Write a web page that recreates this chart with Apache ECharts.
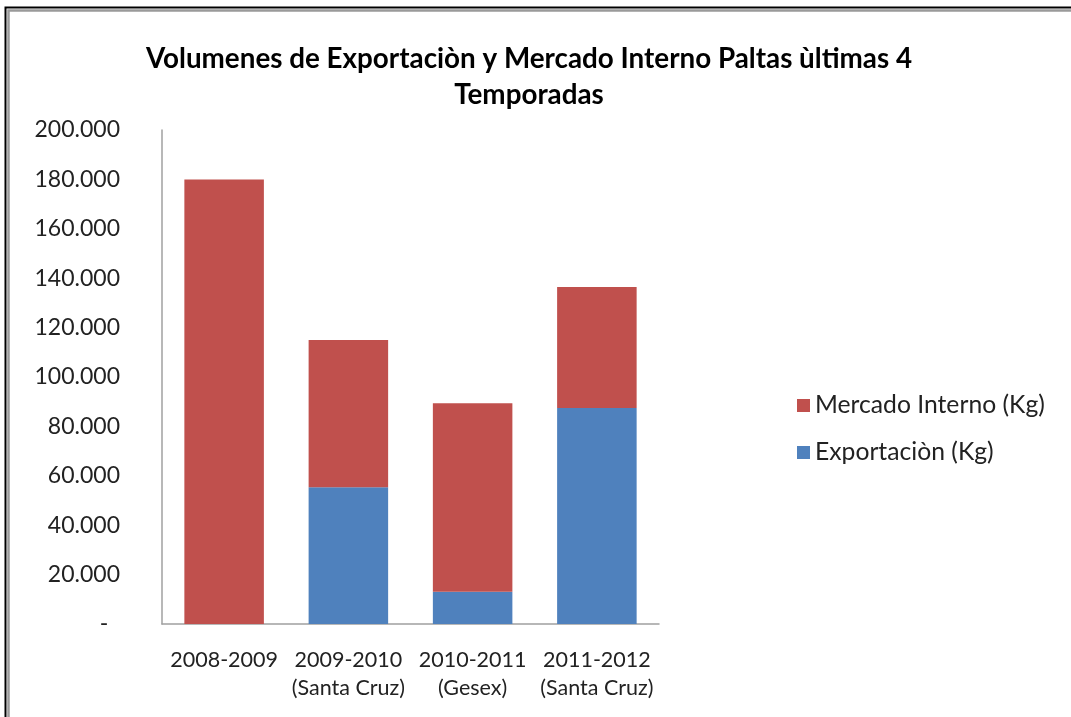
<!DOCTYPE html>
<html>
<head>
<meta charset="utf-8">
<script src="https://cdn.jsdelivr.net/npm/echarts@6/dist/echarts.min.js"></script>
<style>
  html, body { margin: 0; padding: 0; background: #fff; }
  #chart { width: 1071px; height: 717px; }
</style>
</head>
<body>
<div id="chart"></div>
<script>
// temporadas
var temporadas = ['2008-2009', '2009-2010\n(Santa Cruz)', '2010-2011\n(Gesex)', '2011-2012\n(Santa Cruz)'];
// volúmenes en Kg
var exportacion = [0, 55400, 13100, 87500];
var mercadoInterno = [180000, 59600, 76300, 48900];
var yTicks = [0, 20000, 40000, 60000, 80000, 100000, 120000, 140000, 160000, 180000, 200000];

var FONT = 'Lato, "Open Sans", sans-serif';

var chart = echarts.init(document.getElementById('chart'));

function fmtMiles(v) {
  if (v === 0) return '-  ';
  return String(v).replace(/\B(?=(\d{3})+(?!\d))/g, '.');
}

var option = {
  backgroundColor: '#fff',
  animation: false,
  title: {
    text: 'Volumenes de Exportaciòn y Mercado Interno Paltas ùltimas 4\nTemporadas',
    left: 524,
    top: 36,
    textAlign: 'center',
    textStyle: {
      fontFamily: FONT,
      fontWeight: 'bold',
      fontSize: 27.8,
      lineHeight: 36,
      color: '#000'
    }
  },
  legend: {
    orient: 'vertical',
    left: 792,
    top: 388,
    itemWidth: 13,
    itemHeight: 13,
    itemGap: 22,
    icon: 'rect',
    data: ['Mercado Interno (Kg)', 'Exportaciòn (Kg)'],
    textStyle: { fontFamily: FONT, fontSize: 24.7, color: '#222', lineHeight: 25 }
  },
  grid: { left: 162, right: 412, top: 130, bottom: 93 },
  xAxis: {
    type: 'category',
    data: temporadas,
    axisLine: { lineStyle: { color: '#a0a0a0', width: 1.5 } },
    axisTick: { show: false },
    axisLabel: {
      interval: 0,
      fontFamily: FONT, fontSize: 21.5, color: '#222',
      lineHeight: 28, margin: 22
    }
  },
  yAxis: {
    type: 'value',
    min: yTicks[0],
    max: yTicks[yTicks.length - 1],
    interval: yTicks[1] - yTicks[0],
    axisLine: { show: true, lineStyle: { color: '#a0a0a0', width: 1.5 } },
    axisTick: { show: false },
    splitLine: { show: false },
    axisLabel: {
      fontFamily: FONT, fontSize: 23, color: '#222', margin: 42,
      formatter: fmtMiles
    }
  },
  series: [
    {
      name: 'Exportaciòn (Kg)',
      type: 'bar',
      stack: 'total',
      barWidth: '64%',
      data: exportacion,
      itemStyle: { color: '#4f81bd' }
    },
    {
      name: 'Mercado Interno (Kg)',
      type: 'bar',
      stack: 'total',
      barWidth: '64%',
      data: mercadoInterno,
      itemStyle: { color: '#c0504d' }
    }
  ],
  graphic: [
    { type: 'polyline', silent: true,
      shape: { points: [[5.5, 717], [5.5, 7.5], [1071, 7.5]] },
      style: { stroke: '#000', lineWidth: 2, fill: null } },
    { type: 'polyline', silent: true,
      shape: { points: [[8.5, 717], [8.5, 10.5], [1071, 10.5]] },
      style: { stroke: '#9a9a9a', lineWidth: 2.5, fill: null } }
  ]
};

chart.setOption(option);
</script>
</body>
</html>
